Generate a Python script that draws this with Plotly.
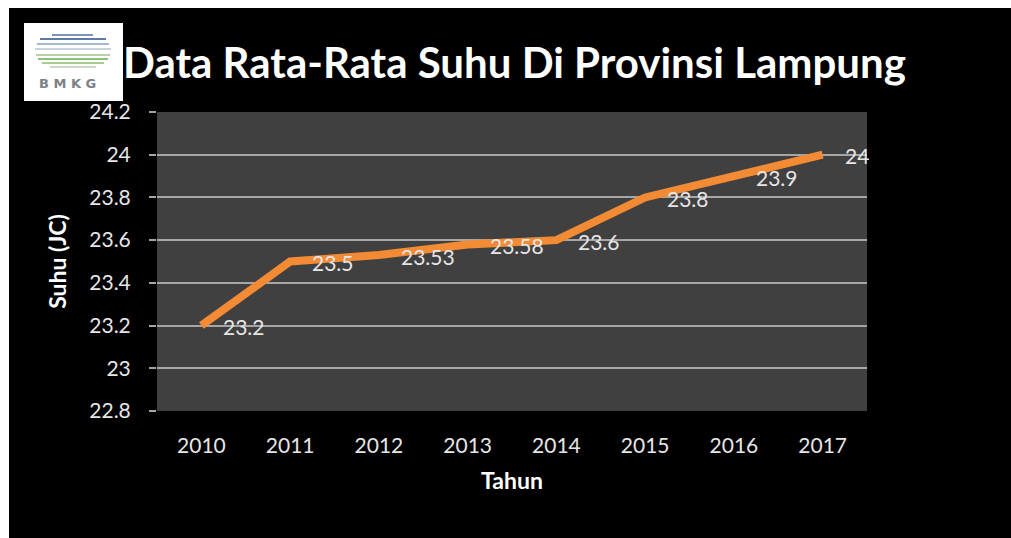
import plotly.graph_objects as go

# ---- data ----
years = ["2010", "2011", "2012", "2013", "2014", "2015", "2016", "2017"]
suhu = [23.2, 23.5, 23.53, 23.58, 23.6, 23.8, 23.9, 24.0]
label_text = ["23.2", "23.5", "23.53", "23.58", "23.6", "23.8", "23.9", "24"]
y_ticks = [22.8, 23.0, 23.2, 23.4, 23.6, 23.8, 24.0, 24.2]
y_tick_text = ["22.8", "23", "23.2", "23.4", "23.6", "23.8", "24", "24.2"]

title_text = "Data Rata-Rata Suhu Di Provinsi Lampung"
x_title = "Tahun"
y_title = "Suhu (JC)"

# ---- layout geometry (pixels) ----
W, H = 1011, 538
L, R, T, B = 157, 144, 112, 127
PW, PH = W - L - R, H - T - B


def px(X):
    return (X - L) / PW


def py(Y):
    return (H - B - Y) / PH


FONT = "Lato"
LINE_COLOR = "#F38B35"
GRID = "#A6A6A6"

fig = go.Figure()
fig.add_trace(go.Scatter(
    x=years, y=suhu, mode="lines",
    line=dict(color=LINE_COLOR, width=8),
    hoverinfo="x+y", showlegend=False,
))

annotations = []
for i, (v, t) in enumerate(zip(suhu, label_text)):
    annotations.append(dict(
        x=i, y=v, xref="x", yref="y", text=t, showarrow=False,
        xanchor="left", yanchor="middle", xshift=20, yshift=-1,
        font=dict(family=FONT, size=21, color="#E6E6E6"),
    ))

# title
annotations.append(dict(
    x=px(514), y=py(62), xref="paper", yref="paper", text="<b>" + title_text + "</b>",
    showarrow=False, xanchor="center", yanchor="middle",
    font=dict(family=FONT, size=42, color="#FFFFFF"),
))
# logo text
annotations.append(dict(
    x=px(67), y=py(83), xref="paper", yref="paper", text="<b>B M K G</b>",
    showarrow=False, xanchor="center", yanchor="middle",
    font=dict(family="DejaVu Sans", size=13, color="#7C8188"),
))

shapes = [
    # black canvas over white page
    dict(type="rect", xref="paper", yref="paper", x0=px(9), x1=px(W + 5), y0=py(H + 5), y1=py(8),
         fillcolor="#000000", line=dict(width=0), layer="below"),
    # grey plot area
    dict(type="rect", xref="paper", yref="paper", x0=0, x1=1, y0=0, y1=1,
         fillcolor="#404040", line=dict(width=0), layer="below"),
    # logo box
    dict(type="rect", xref="paper", yref="paper", x0=px(24), x1=px(123), y0=py(101), y1=py(23),
         fillcolor="#FFFFFF", line=dict(width=0), layer="above"),
]
# logo stripes
stripes = [(35, 52, 93, "#7F93B5"), (39, 40, 106, "#5D7BA8"), (44, 37, 109, "#A9BAD0"),
           (49, 35, 111, "#C9D3DD"), (55, 36, 110, "#B6D3A5"), (59, 38, 108, "#8FBF7A"),
           (63, 42, 104, "#A6CC94"), (67, 50, 96, "#C7DDBB")]
for yy, xa, xb, c in stripes:
    shapes.append(dict(type="line", xref="paper", yref="paper", x0=px(xa), x1=px(xb),
                       y0=py(yy), y1=py(yy), line=dict(color=c, width=2), layer="above"))

fig.update_layout(
    width=W, height=H,
    margin=dict(l=L, r=R, t=T, b=B),
    paper_bgcolor="#FFFFFF",
    plot_bgcolor="rgba(0,0,0,0)",
    shapes=shapes,
    annotations=annotations,
    xaxis=dict(
        type="category", range=[-0.5, 7.5], showgrid=False, zeroline=False,
        showline=False, ticks="", ticklabelstandoff=20,
        tickfont=dict(family=FONT, size=21, color="#E6E6E6"),
        title=dict(text="<b>" + x_title + "</b>", standoff=16,
                   font=dict(family=FONT, size=23, color="#FFFFFF")),
        fixedrange=True,
    ),
    yaxis=dict(
        range=[22.8, 24.2], tickvals=y_ticks, ticktext=y_tick_text,
        showgrid=True, gridcolor=GRID, gridwidth=2, zeroline=False,
        ticks="outside", ticklen=7, tickcolor=GRID, tickwidth=2,
        ticklabelstandoff=14, showline=False,
        tickfont=dict(family=FONT, size=21, color="#E6E6E6"),
        title=dict(text="<b>" + y_title + "</b>", standoff=16,
                   font=dict(family=FONT, size=23, color="#FFFFFF")),
        fixedrange=True,
    ),
)

fig.write_html("out.html")
